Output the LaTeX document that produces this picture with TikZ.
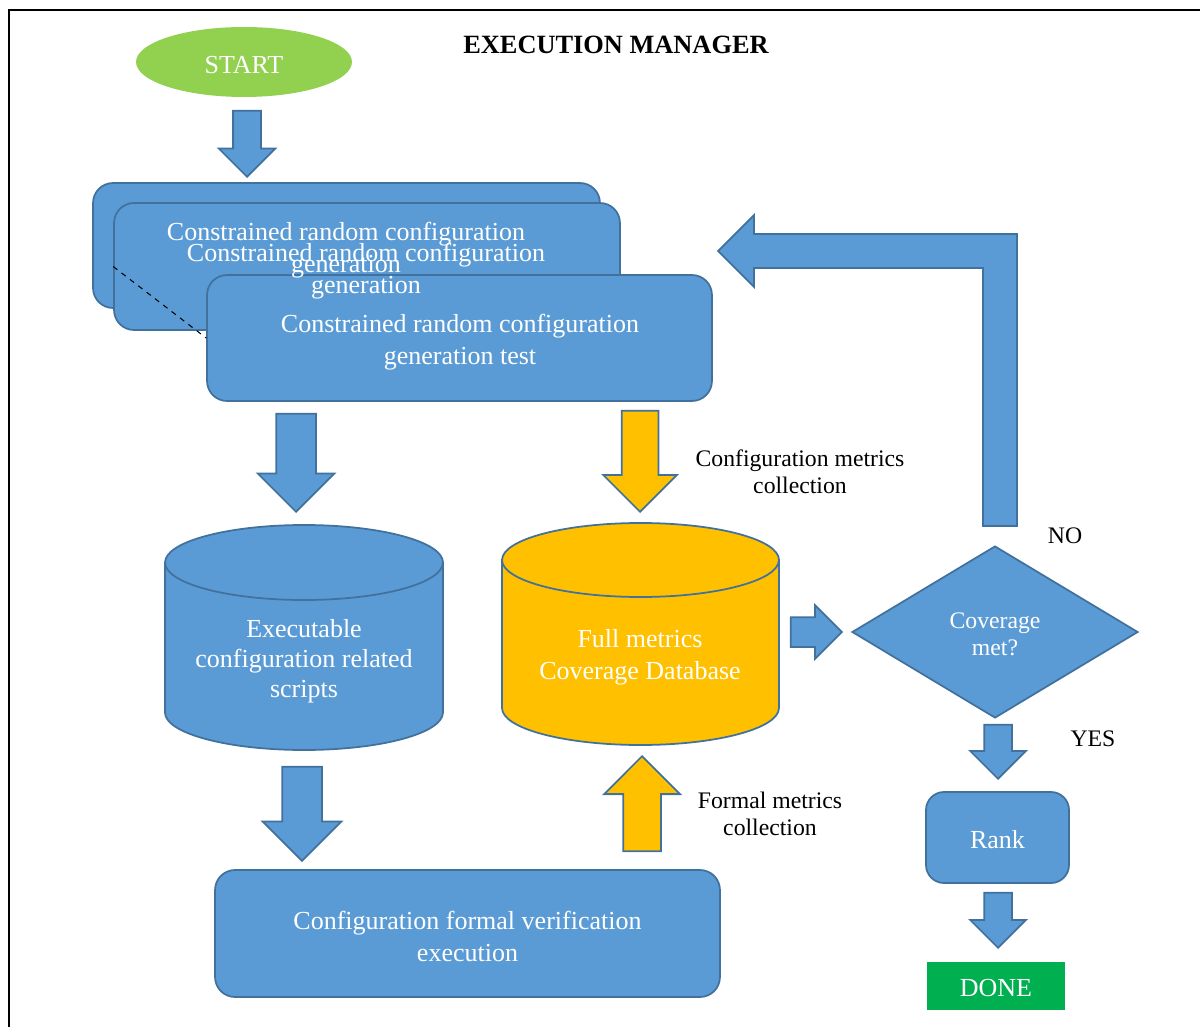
\documentclass[tikz,border=0pt]{standalone}
\usepackage{fontspec}
\setmainfont{Liberation Serif}
\usetikzlibrary{shapes.geometric, shapes.arrows}
\definecolor{BoxBlue}{HTML}{5B9BD5}
\definecolor{EdgeBlue}{HTML}{41719C}
\definecolor{StartGreen}{HTML}{92D050}
\definecolor{DbYellow}{HTML}{FFC000}
\definecolor{DoneGreen}{HTML}{00B050}

\begin{document}
\begin{tikzpicture}[
      x=0.02cm, y=-0.02cm,
      procbox/.style={rectangle, rounded corners=0.4cm, fill=BoxBlue, draw=EdgeBlue, line width=1pt, minimum width=10.1cm, minimum height=2.52cm},
      boxtext/.style={text=white, align=center, font=\fontsize{14.8}{18.2}\selectfont},
      note/.style={align=center, font=\fontsize{13.5}{15.4}\selectfont},
      bigarrow/.style n args={3}{single arrow, single arrow head indent=0pt, single arrow tip angle=90, inner xsep=0pt, inner ysep=#2, single arrow head extend=#3, minimum height=#1, fill=BoxBlue, draw=EdgeBlue, line width=1pt, anchor=tip},
      cyl/.style={draw=EdgeBlue, line width=1pt}
  ]
    \useasboundingbox (0,0) rectangle (1200,1027);
    \draw[line width=1.1pt] (8,10) -- (1200,10);
    \draw[line width=1.1pt] (9,10) -- (9,1027);

    \node[font=\bfseries\fontsize{15}{18}\selectfont] (title) at (616,45) {EXECUTION MANAGER};
    \node[ellipse, fill=StartGreen, minimum width=4.32cm, minimum height=1.4cm] (start) at (244,62) {};
    \node[boxtext] (starttext) at (244,65) {START};
    \node[bigarrow={1.32cm}{0.26cm}{0.29cm}, rotate=-90] (arrstart) at (247,178) {};

    % stacked generation boxes
    \node[procbox, minimum width=10.14cm, minimum height=2.5cm] (boxa) at (346.5,245.5) {};
    \node[procbox, minimum width=10.12cm, minimum height=2.54cm] (boxb) at (367,266.5) {};
    \node[procbox] (boxc) at (459.5,338) {};
    \draw[dashed, line width=0.6pt] (boxb.west) -- (boxc.west);
    \node[boxtext] (texta) at (346,250) {Constrained random configuration\\generation};
    \node[boxtext] (textb) at (366,271) {Constrained random configuration\\generation};
    \node[boxtext] (textc) at (460,342) {Constrained random configuration\\generation test};

    \node[bigarrow={1.96cm}{0.38cm}{0.37cm}, rotate=-90] (arrscript) at (296,513) {};
    \node[bigarrow={2.02cm}{0.35cm}{0.37cm}, rotate=-90, fill=DbYellow] (arrconf) at (640,513) {};
    \node[note] (confnote) at (800,472) {Configuration metrics\\collection};

    % scripts cylinder
    \draw[cyl, fill=BoxBlue] (165,562.5) -- (165,712.5) arc[start angle=180, end angle=360, x radius=2.78cm, y radius=0.75cm] -- (443,562.5) arc[start angle=0, end angle=180, x radius=2.78cm, y radius=0.75cm] -- cycle;
    \draw[cyl] (165,562.5) arc[start angle=180, end angle=360, x radius=2.78cm, y radius=0.75cm];
    \node[boxtext, font=\fontsize{14.8}{17.2}\selectfont] (scripts) at (304,661) {Executable\\configuration related\\scripts};

    % database cylinder
    \draw[cyl, fill=DbYellow] (502,560) -- (502,708) arc[start angle=180, end angle=360, x radius=2.77cm, y radius=0.74cm] -- (779,560) arc[start angle=0, end angle=180, x radius=2.77cm, y radius=0.74cm] -- cycle;
    \draw[cyl] (502,560) arc[start angle=180, end angle=360, x radius=2.77cm, y radius=0.74cm];
    \node[boxtext] (database) at (640,657) {Full metrics\\Coverage Database};

    \node[bigarrow={1.02cm}{0.28cm}{0.24cm}] (arrcov) at (843,632) {};
    \node[diamond, fill=BoxBlue, draw=EdgeBlue, line width=1pt, minimum width=5.72cm, minimum height=3.44cm, inner sep=0pt] (covmet) at (995,632) {};
    \node[boxtext, font=\fontsize{13.5}{15.4}\selectfont] (covtext) at (995,634) {Coverage\\met?};

    % back to generation when coverage is not met
    \draw[fill=BoxBlue, draw=EdgeBlue, line width=1pt] (983,526) -- (983,268) -- (754,268) -- (754,287) -- (718,251) -- (754,215) -- (754,234) -- (1017,234) -- (1017,526) -- cycle;
    \node[note] (nonote) at (1065,536) {NO};

    \node[bigarrow={1.9cm}{0.36cm}{0.38cm}, rotate=90, fill=DbYellow] (arrformal) at (642,755) {};
    \node[note] (formnote) at (770,814) {Formal metrics\\collection};
    \node[bigarrow={1.88cm}{0.38cm}{0.39cm}, rotate=-90] (arrexec) at (302,862) {};
    \node[procbox, minimum width=10.1cm, minimum height=2.54cm] (exec) at (467.5,933.5) {};
    \node[boxtext] (exectext) at (467.5,936) {Configuration formal verification\\execution};

    \node[bigarrow={1.08cm}{0.26cm}{0.28cm}, rotate=-90] (arryes) at (998,780) {};
    \node[note] (yesnote) at (1093,739) {YES};
    \node[procbox, minimum width=2.86cm, minimum height=1.82cm, rounded corners=0.36cm] (rank) at (997.5,837.5) {};
    \node[boxtext] (ranktext) at (997.5,840) {Rank};
    \node[bigarrow={1.1cm}{0.26cm}{0.28cm}, rotate=-90] (arrdone) at (998,949) {};
    \node[fill=DoneGreen, minimum width=2.76cm, minimum height=0.96cm] (done) at (996,986) {};
    \node[boxtext] (donetext) at (996,988) {DONE};
  \end{tikzpicture}
\end{document}
